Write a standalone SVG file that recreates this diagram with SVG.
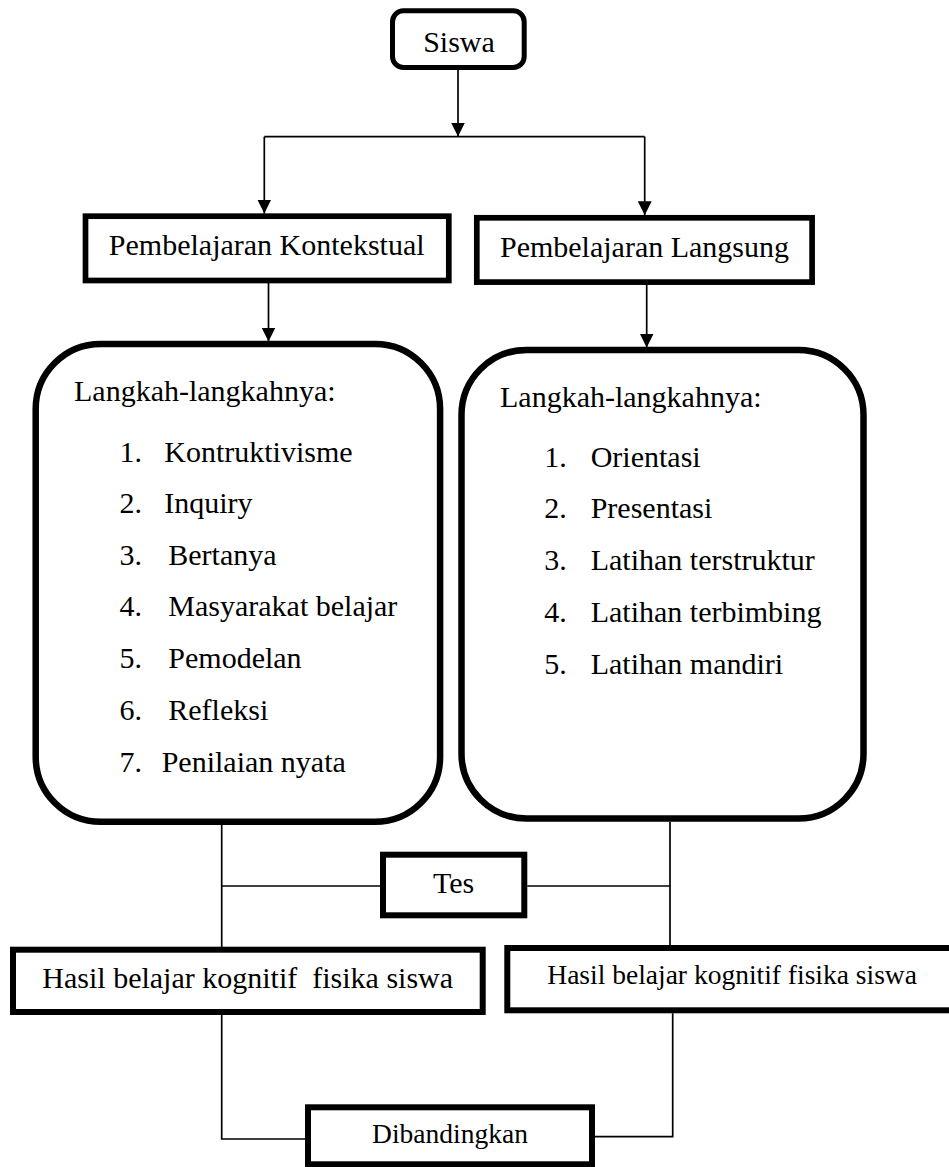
<svg xmlns="http://www.w3.org/2000/svg" width="949" height="1167" viewBox="0 0 949 1167">
<style>
  .box { fill: #fff; stroke: #000; stroke-width: 5.7; }
  .rbox { fill: #fff; stroke: #000; stroke-width: 6.5; }
  .conn { fill: none; stroke: #000; stroke-width: 1.7; }
  text { font-family: "Liberation Serif", "Times New Roman", serif; font-size: 30px; fill: #000; }
  .c { text-anchor: middle; }
  .sm { font-size: 27.5px; }
  .pre { white-space: pre; }
</style>
<defs>
  <marker id="arr" markerUnits="userSpaceOnUse" markerWidth="14" markerHeight="14" refX="14" refY="7" orient="auto">
    <path d="M0,0 L14,7 L0,14 z" fill="#000"/>
  </marker>
</defs>
<rect width="949" height="1167" fill="#fff"/>

<g id="connectors">
  <line class="conn" x1="458" y1="70" x2="458" y2="136.5" marker-end="url(#arr)"/>
  <line class="conn" x1="264.3" y1="136.7" x2="644.7" y2="136.7"/>
  <line class="conn" x1="264.3" y1="136.7" x2="264.3" y2="213.5" marker-end="url(#arr)"/>
  <line class="conn" x1="644.7" y1="136.7" x2="644.7" y2="215.2" marker-end="url(#arr)"/>
  <line class="conn" x1="268.5" y1="283" x2="268.5" y2="341.5" marker-end="url(#arr)"/>
  <line class="conn" x1="646.7" y1="285" x2="646.7" y2="347.5" marker-end="url(#arr)"/>
  <line class="conn" x1="221.7" y1="825" x2="221.7" y2="947"/>
  <line class="conn" x1="670" y1="821.7" x2="670" y2="945.5"/>
  <line class="conn" x1="221.7" y1="886" x2="380" y2="886"/>
  <line class="conn" x1="527.3" y1="886" x2="670" y2="886"/>
  <polyline class="conn" points="221.7,1015 221.7,1139 305,1139"/>
  <polyline class="conn" points="672.7,1013.3 672.7,1136.7 595,1136.7"/>
</g>

<g id="siswa">
  <rect class="box" x="392.5" y="10.8" width="131.7" height="56.7" rx="11" ry="11" style="stroke-width:5"/>
  <text class="c" x="459" y="51.7">Siswa</text>
</g>

<g id="kontekstual">
  <rect class="box" x="85.5" y="216.2" width="363.3" height="64.3"/>
  <text class="c" x="266.7" y="255">Pembelajaran Kontekstual</text>
</g>

<g id="langsung">
  <rect class="box" x="476.8" y="217.8" width="335.3" height="64.3"/>
  <text class="c" x="644.5" y="256.7">Pembelajaran Langsung</text>
</g>

<g id="langkah-kontekstual">
  <rect class="rbox" x="35.7" y="344" width="404.4" height="477.8" rx="65" ry="65"/>
  <text x="74" y="401">Langkah-langkahnya:</text>
  <text x="119.5" y="461.7">1.</text><text x="164.3" y="461.7">Kontruktivisme</text>
  <text x="119.5" y="512.9">2.</text><text x="164.3" y="512.9">Inquiry</text>
  <text x="119.5" y="565">3.</text><text x="168.3" y="565">Bertanya</text>
  <text x="119.5" y="616">4.</text><text x="168.3" y="616">Masyarakat belajar</text>
  <text x="119.5" y="668.3">5.</text><text x="168.3" y="668.3">Pemodelan</text>
  <text x="119.5" y="720">6.</text><text x="168.3" y="720">Refleksi</text>
  <text x="119.5" y="771.7">7.</text><text x="161.7" y="771.7">Penilaian nyata</text>
</g>

<g id="langkah-langsung">
  <rect class="rbox" x="461.5" y="350" width="402" height="468.5" rx="65" ry="65"/>
  <text x="500" y="406.7">Langkah-langkahnya:</text>
  <text x="544.3" y="466.7">1.</text><text x="590.7" y="466.7">Orientasi</text>
  <text x="544.3" y="518.3">2.</text><text x="590.7" y="518.3">Presentasi</text>
  <text x="544.3" y="569.8">3.</text><text x="590.7" y="569.8">Latihan terstruktur</text>
  <text x="544.3" y="622.3">4.</text><text x="590.7" y="622.3">Latihan terbimbing</text>
  <text x="544.3" y="674">5.</text><text x="590.7" y="674">Latihan mandiri</text>
</g>

<g id="tes">
  <rect class="box" x="383" y="854.7" width="141.3" height="60.6" style="stroke-width:6"/>
  <text class="c" x="453.7" y="893">Tes</text>
</g>

<g id="hasil-kontekstual">
  <rect class="box" x="13" y="949.7" width="469.7" height="62.3" style="stroke-width:6"/>
  <text class="c pre" x="247.7" y="988" xml:space="preserve">Hasil belajar kognitif  fisika siswa</text>
</g>

<g id="hasil-langsung">
  <rect class="box" x="507.3" y="948" width="452" height="62.3" style="stroke-width:6"/>
  <text class="sm" x="547.3" y="984">Hasil belajar kognitif fisika siswa</text>
</g>

<g id="dibandingkan">
  <rect class="box" x="308" y="1107.3" width="284" height="57" style="stroke-width:6"/>
  <text class="c sm" x="450" y="1143.3">Dibandingkan</text>
</g>
</svg>
